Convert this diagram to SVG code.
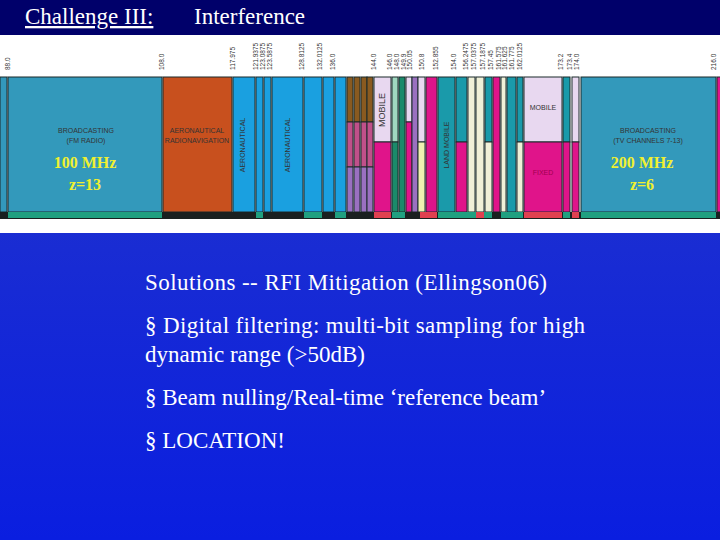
<svg xmlns="http://www.w3.org/2000/svg" width="720" height="540" viewBox="0 0 720 540">
<defs>
<linearGradient id="bg" x1="0" y1="0" x2="0" y2="1">
<stop offset="0" stop-color="#2638c8"/><stop offset="1" stop-color="#0a1ee0"/>
</linearGradient>
</defs>
<style>
.t{font-family:"Liberation Serif",serif;fill:#000}
.w{font-family:"Liberation Serif",serif;fill:#fff;font-size:23px}
.y{font-family:"Liberation Serif",serif;fill:#f0f030;font-size:16px;font-weight:bold}
.f{font-family:"Liberation Sans",sans-serif;font-size:6.5px;fill:#333}
.l{font-family:"Liberation Sans",sans-serif;font-size:7px;fill:#333}
.b rect{stroke:#1a2a2a;stroke-width:1}
</style>
<rect width="720" height="540" fill="url(#bg)"/>
<rect width="720" height="35" fill="#00006a"/>
<text x="25" y="24" style="font-family:'Liberation Serif',serif;font-size:23px;fill:#fff" text-decoration="underline">Challenge III:</text>
<text x="194" y="24" style="font-family:'Liberation Serif',serif;font-size:23px;fill:#fff">Interference</text>
<rect x="0" y="35" width="720" height="198" fill="#fff"/>
<g id="chart" class="b">
<rect x="0" y="77" width="7" height="135" fill="#3399bb"/>
<rect x="8" y="77" width="154" height="135" fill="#3399bb"/>
<rect x="163" y="77" width="69" height="135" fill="#c8501e"/>
<rect x="233" y="77" width="22" height="135" fill="#1aa0e0"/>
<rect x="256" y="77" width="7" height="135" fill="#1aa0e0"/>
<rect x="264" y="77" width="7" height="135" fill="#1aa0e0"/>
<rect x="272" y="77" width="31" height="135" fill="#1aa0e0"/>
<rect x="304" y="77" width="18" height="135" fill="#1aa0e0"/>
<rect x="323" y="77" width="11" height="135" fill="#1aa0e0"/>
<rect x="335" y="77" width="11" height="135" fill="#1aa0e0"/>
<rect x="347" y="77" width="6" height="45" fill="#8a5a20"/><rect x="347" y="122" width="6" height="45" fill="#c0508a"/><rect x="347" y="167" width="6" height="45" fill="#9a70c0"/>
<rect x="354" y="77" width="6" height="45" fill="#8a5a20"/><rect x="354" y="122" width="6" height="45" fill="#c0508a"/><rect x="354" y="167" width="6" height="45" fill="#9a70c0"/>
<rect x="361" y="77" width="6" height="45" fill="#8a5a20"/><rect x="361" y="122" width="6" height="45" fill="#c0508a"/><rect x="361" y="167" width="6" height="45" fill="#9a70c0"/>
<rect x="367" y="77" width="6" height="45" fill="#8a5a20"/><rect x="367" y="122" width="6" height="45" fill="#c0508a"/><rect x="367" y="167" width="6" height="45" fill="#9a70c0"/>
<rect x="374" y="77" width="17" height="65" fill="#e8d8f0"/><rect x="374" y="142" width="17" height="70" fill="#e0148a"/>
<rect x="392" y="77" width="6" height="65" fill="#a0d8c0"/><rect x="392" y="142" width="6" height="70" fill="#1a8a6a"/>
<rect x="399" y="77" width="6" height="135" fill="#1a8a6a"/>
<rect x="406" y="77" width="6" height="45" fill="#e8d8f0"/><rect x="406" y="122" width="6" height="90" fill="#e0148a"/>
<rect x="412" y="77" width="6" height="135" fill="#9a70c0"/>
<rect x="418" y="77" width="7" height="65" fill="#e8d8f0"/><rect x="418" y="142" width="7" height="70" fill="#f0f0b0"/>
<rect x="426" y="77" width="11" height="135" fill="#e0148a"/>
<rect x="438" y="77" width="17" height="135" fill="#1a9aaa"/>
<rect x="456" y="77" width="11" height="65" fill="#1a9aaa"/><rect x="456" y="142" width="11" height="70" fill="#e0148a"/>
<rect x="468" y="77" width="7" height="135" fill="#f0f0d8"/>
<rect x="476" y="77" width="8" height="135" fill="#f0f0d8"/>
<rect x="485" y="77" width="7" height="65" fill="#1a9aaa"/><rect x="485" y="142" width="7" height="70" fill="#f0f0d8"/>
<rect x="493" y="77" width="7" height="135" fill="#e0148a"/>
<rect x="501" y="77" width="5" height="135" fill="#f0f0d8"/>
<rect x="507" y="77" width="9" height="135" fill="#1a9aaa"/>
<rect x="517" y="77" width="6" height="65" fill="#1a9aaa"/><rect x="517" y="142" width="6" height="70" fill="#f0f0d8"/>
<rect x="524" y="77" width="38" height="65" fill="#e8d8f0"/><rect x="524" y="142" width="38" height="70" fill="#e0148a"/>
<rect x="563" y="77" width="7" height="65" fill="#1a9aaa"/><rect x="563" y="142" width="7" height="70" fill="#e0148a"/>
<rect x="572" y="77" width="7" height="65" fill="#e8d8f0"/><rect x="572" y="142" width="7" height="70" fill="#e0148a"/>
<rect x="581" y="77" width="135" height="135" fill="#3399bb"/>
<rect x="717" y="77" width="5" height="135" fill="#e0148a"/>
</g>
<g id="strip">
<rect x="0" y="212" width="720" height="7" fill="#1a2020"/>
<rect x="8" y="212" width="154" height="6" fill="#20a080"/>
<rect x="256" y="212" width="7" height="6" fill="#20a080"/>
<rect x="304" y="212" width="18" height="6" fill="#20a080"/>
<rect x="335" y="212" width="11" height="6" fill="#20a080"/>
<rect x="374" y="212" width="17" height="6" fill="#e04050"/>
<rect x="392" y="212" width="13" height="6" fill="#20a080"/>
<rect x="420" y="212" width="17" height="6" fill="#e04050"/>
<rect x="438" y="212" width="54" height="6" fill="#20a080"/>
<rect x="476" y="212" width="8" height="6" fill="#e04050"/>
<rect x="501" y="212" width="22" height="6" fill="#20a080"/>
<rect x="524" y="212" width="38" height="6" fill="#e04050"/>
<rect x="563" y="212" width="7" height="6" fill="#20a080"/>
<rect x="572" y="212" width="7" height="6" fill="#e04050"/>
<rect x="581" y="212" width="135" height="6" fill="#20a080"/>
</g>
<g id="freqs" class="f">
<text transform="translate(10,70) rotate(-90)">88.0</text>
<text transform="translate(164,70) rotate(-90)">108.0</text>
<text transform="translate(235,70) rotate(-90)">117.975</text>
<text transform="translate(258,70) rotate(-90)">121.9375</text>
<text transform="translate(265,70) rotate(-90)">123.0875</text>
<text transform="translate(272,70) rotate(-90)">123.5875</text>
<text transform="translate(304,70) rotate(-90)">128.8125</text>
<text transform="translate(322,70) rotate(-90)">132.0125</text>
<text transform="translate(335,70) rotate(-90)">136.0</text>
<text transform="translate(376,70) rotate(-90)">144.0</text>
<text transform="translate(392,70) rotate(-90)">146.0</text>
<text transform="translate(399,70) rotate(-90)">148.0</text>
<text transform="translate(406,70) rotate(-90)">149.9</text>
<text transform="translate(412,70) rotate(-90)">150.05</text>
<text transform="translate(424,70) rotate(-90)">150.8</text>
<text transform="translate(438,70) rotate(-90)">152.855</text>
<text transform="translate(456,70) rotate(-90)">154.0</text>
<text transform="translate(468,70) rotate(-90)">156.2475</text>
<text transform="translate(476,70) rotate(-90)">157.0375</text>
<text transform="translate(485,70) rotate(-90)">157.1875</text>
<text transform="translate(493,70) rotate(-90)">157.45</text>
<text transform="translate(501,70) rotate(-90)">161.575</text>
<text transform="translate(507,70) rotate(-90)">161.625</text>
<text transform="translate(514,70) rotate(-90)">161.775</text>
<text transform="translate(522,70) rotate(-90)">162.0125</text>
<text transform="translate(563,70) rotate(-90)">173.2</text>
<text transform="translate(572,70) rotate(-90)">173.4</text>
<text transform="translate(579,70) rotate(-90)">174.0</text>
<text transform="translate(716,70) rotate(-90)">216.0</text>
</g>
<g id="bandlabels" class="l" text-anchor="middle">
<text x="86" y="133">BROADCASTING</text><text x="86" y="143">(FM RADIO)</text>
<text x="197" y="133">AERONAUTICAL</text><text x="197" y="143">RADIONAVIGATION</text>
<text x="648" y="133">BROADCASTING</text><text x="648" y="143">(TV CHANNELS 7-13)</text>
<text x="543" y="110">MOBILE</text>
<text x="543" y="175" fill="#a00050">FIXED</text>
<text transform="translate(385,110) rotate(-90)" font-size="9">MOBILE</text>
<text transform="translate(449,145) rotate(-90)">LAND MOBILE</text>
<text transform="translate(245,145) rotate(-90)">AERONAUTICAL</text>
<text transform="translate(290,145) rotate(-90)">AERONAUTICAL</text>
</g>
<g id="notes">
<text class="y" x="85" y="168" text-anchor="middle">100 MHz</text>
<text class="y" x="85" y="190" text-anchor="middle">z=13</text>
<text class="y" x="642" y="168" text-anchor="middle">200 MHz</text>
<text class="y" x="642" y="190" text-anchor="middle">z=6</text>
</g>
<g id="text">
<text class="w" x="145" y="290" textLength="402">Solutions -- RFI Mitigation (Ellingson06)</text>
<text class="w" x="145" y="333" textLength="440">§ Digital filtering: multi-bit sampling for high</text>
<text class="w" x="145" y="362">dynamic range (&gt;50dB)</text>
<text class="w" x="145" y="405">§ Beam nulling/Real-time ‘reference beam’</text>
<text class="w" x="145" y="448">§ LOCATION!</text>
</g>
</svg>
